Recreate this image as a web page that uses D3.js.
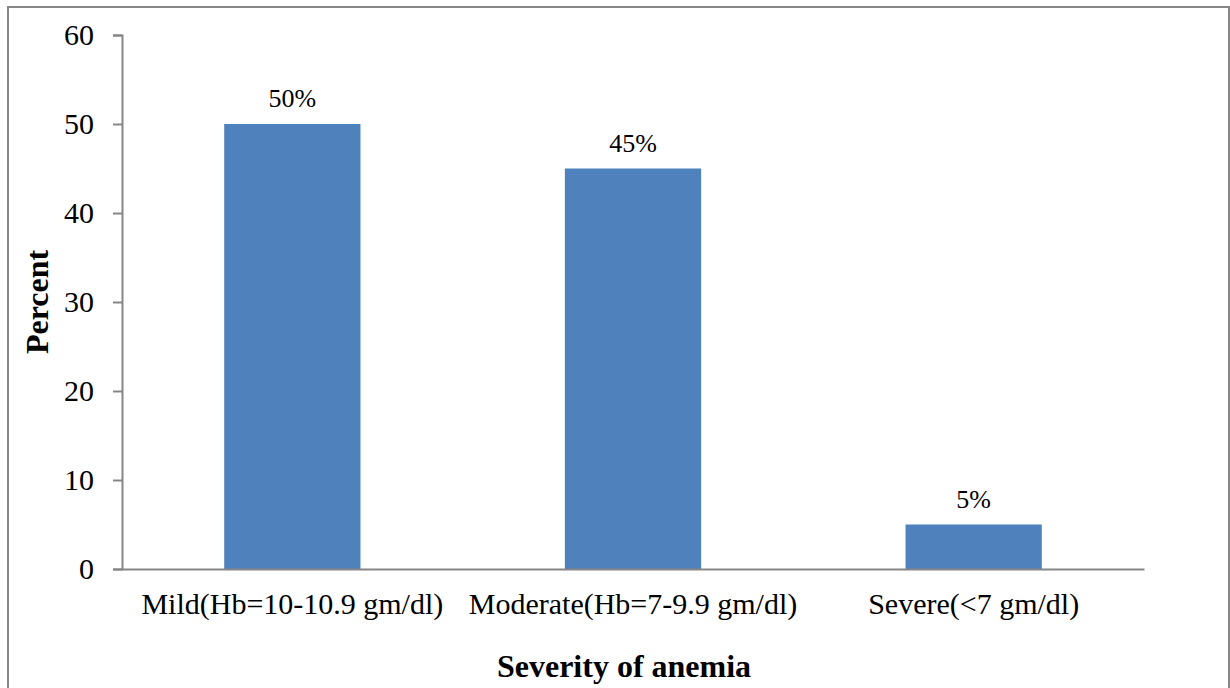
<!DOCTYPE html>
<html>
<head>
<meta charset="utf-8">
<script src="https://cdn.jsdelivr.net/npm/d3@7"></script>
<style>
  html, body { margin: 0; padding: 0; background: #fff; }
  svg { display: block; }
  text { font-family: "Liberation Serif", "Times New Roman", serif; fill: #000; }
</style>
</head>
<body>
<svg id="chart" width="1230" height="688"></svg>
<script>
const categories = ["Mild(Hb=10-10.9 gm/dl)", "Moderate(Hb=7-9.9 gm/dl)", "Severe(<7 gm/dl)"];
const values = [50, 45, 5];
const valueLabels = ["50%", "45%", "5%"];
const yTicks = [0, 10, 20, 30, 40, 50, 60];
const xTitle = "Severity of anemia";
const yTitle = "Percent";

const svg = d3.select("#chart");
const W = 1230, H = 688;
const mLeft = 122, mRight = 1144, mTop = 35, mBottom = 569;
const axisColor = "#868686";

// outer frame
svg.append("rect")
  .attr("x", 8).attr("y", 7)
  .attr("width", W - 9).attr("height", H + 10)
  .attr("fill", "none").attr("stroke", axisColor).attr("stroke-width", 2);

const x = d3.scaleBand().domain(categories).range([mLeft, mRight])
  .paddingInner(0.6).paddingOuter(0.3);
const xFull = d3.scaleBand().domain(categories).range([mLeft, mRight]).padding(0);
const y = d3.scaleLinear().domain([0, 60]).range([mBottom, mTop]);

// bars
svg.selectAll("rect.bar").data(values).enter().append("rect")
  .attr("class", "bar")
  .attr("x", (d, i) => x(categories[i]))
  .attr("width", x.bandwidth())
  .attr("y", d => y(d))
  .attr("height", d => y(0) - y(d))
  .attr("fill", "#4F81BD");

// y axis
const yAxis = d3.axisLeft(y).tickValues(yTicks).tickSize(9).tickPadding(19);
const gy = svg.append("g").attr("transform", `translate(${mLeft},0)`).call(yAxis);
gy.select(".domain").attr("stroke", axisColor).attr("stroke-width", 2);
gy.selectAll(".tick line").attr("stroke", axisColor).attr("stroke-width", 2);
gy.selectAll(".tick text")
  .style("font-family", '"Liberation Serif", serif')
  .style("font-size", "30px").attr("fill", "#000");

// x axis
const xAxis = d3.axisBottom(xFull).tickSize(0).tickPadding(0);
const gx = svg.append("g").attr("transform", `translate(0,${mBottom})`).call(xAxis);
gx.select(".domain").attr("stroke", axisColor).attr("stroke-width", 2);
gx.selectAll(".tick text")
  .style("font-family", '"Liberation Serif", serif')
  .style("font-size", "30px").attr("fill", "#000")
  .attr("dy", null).attr("y", 45);

// value labels
svg.selectAll("text.vlabel").data(values).enter().append("text")
  .attr("class", "vlabel")
  .attr("x", (d, i) => x(categories[i]) + x.bandwidth() / 2)
  .attr("y", d => y(d) - 17)
  .attr("text-anchor", "middle")
  .style("font-size", "26px")
  .text((d, i) => valueLabels[i]);

// axis titles
svg.append("text")
  .attr("x", 624).attr("y", 677)
  .attr("text-anchor", "middle")
  .style("font-size", "32px").style("font-weight", "bold")
  .text(xTitle);

svg.append("text")
  .attr("transform", `translate(48,${(mTop + mBottom) / 2}) rotate(-90)`)
  .attr("text-anchor", "middle")
  .style("font-size", "32px").style("font-weight", "bold")
  .text(yTitle);
</script>
</body>
</html>
